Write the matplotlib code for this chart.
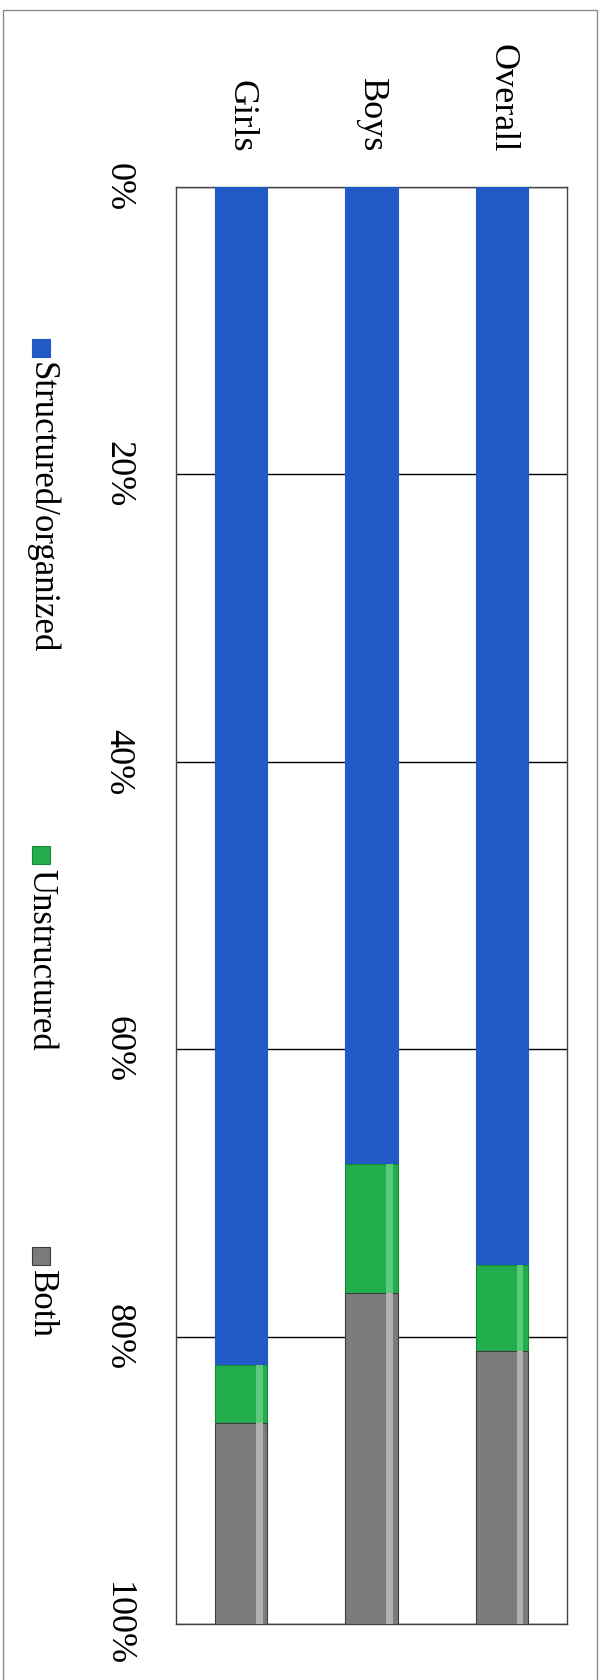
import matplotlib.pyplot as plt
from matplotlib.patches import Rectangle
import numpy as np

# data (chart is printed rotated 90 degrees clockwise)
categories = ["Girls", "Boys", "Overall"]
series_names = ["Structured/organized", "Unstructured", "Both"]
structured = [0.82, 0.68, 0.75]
unstructured = [0.04, 0.09, 0.06]
both = [0.14, 0.23, 0.19]
tick_values = [0, 0.2, 0.4, 0.6, 0.8, 1.0]
tick_labels = ["0%", "20%", "40%", "60%", "80%", "100%"]

colors = ["#2159c6", "#22ae4c", "#7b7b7b"]
highlight = ["#2159c6", "#5cc97a", "#b0b0b0"]
edges = ["#2159c6", "#178a38", "#3c3c3c"]

W, H = 610, 1680
fig = plt.figure(figsize=(W / 100, H / 100), dpi=100)
plt.rcParams['font.family'] = ['Liberation Serif', 'DejaVu Serif']

# outer frame of the scanned chart
fig.patches.append(Rectangle((3 / W, -0.01), 594 / W, 1 - 10 / H + 0.01,
                             transform=fig.transFigure, fill=False,
                             edgecolor="#8a8a8a", linewidth=1.0))

ax = fig.add_axes([176 / W, (H - 1624) / H, 391 / W, 1437 / H])

x = np.arange(len(categories))
bar_w = 0.4
bottom = np.zeros(len(categories))
for vals, c, hc, ec in zip([structured, unstructured, both], colors, highlight, edges):
    ax.bar(x, vals, width=bar_w, bottom=bottom, color=c, edgecolor=ec,
           linewidth=0.8, zorder=3)
    if c != colors[0]:
        # light bevel strip on the right side of the 3d bars
        ax.bar(x + 0.14, vals, width=0.05, bottom=bottom, color=hc,
               linewidth=0, zorder=4)
    bottom += np.array(vals)

ax.set_xlim(-0.5, 2.5)
ax.set_ylim(1.0, 0.0)

ax.set_yticks(tick_values)
ax.set_yticklabels(tick_labels, rotation=-90, fontsize=26)
for lab in ax.get_yticklabels():
    lab.set_va('center')
ax.set_xticks(x)
ax.set_xticklabels(categories, rotation=-90, fontsize=26)
ax.xaxis.set_ticks_position('top')
ax.tick_params(axis='x', length=0, pad=25)
ax.tick_params(axis='y', length=0, pad=30)

ax.yaxis.grid(True, color="black", linewidth=1.0)
ax.set_axisbelow(True)
for s in ax.spines.values():
    s.set_edgecolor("#444444")
    s.set_linewidth(1.0)

# legend, drawn by hand so it can be rotated with the chart
legend_y = [339, 846, 1247]
for name, c, ec, ly in zip(series_names, colors, edges, legend_y):
    fig.patches.append(Rectangle((32 / W, 1 - (ly + 18) / H), 18 / W, 18 / H,
                                 transform=fig.transFigure, facecolor=c,
                                 edgecolor=ec, linewidth=0.8))
    fig.text(41 / W, 1 - (ly + 23) / H, name, rotation=-90, fontsize=25,
             ha='center', va='top')

fig.savefig("out.png", dpi=100, facecolor="white")
